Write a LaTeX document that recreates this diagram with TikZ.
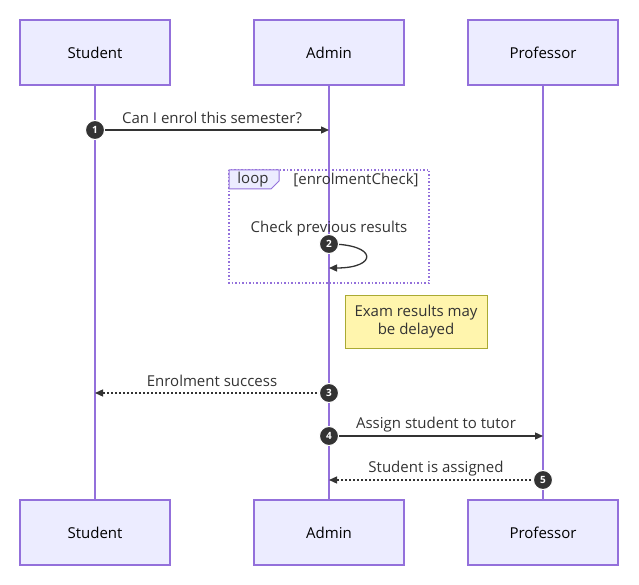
\documentclass[tikz,border=0pt]{standalone}
\usepackage{fontspec}
\setmainfont{Open Sans}
\usetikzlibrary{arrows.meta}
\definecolor{boxf}{HTML}{ECECFF}
\definecolor{boxd}{HTML}{9370DB}
\definecolor{ink}{HTML}{333333}
\definecolor{notef}{HTML}{FFF5AD}
\definecolor{noted}{HTML}{AAAA33}
\begin{document}
\begin{tikzpicture}[x=1pt,y=-1pt,font=\fontsize{15}{18.5}\selectfont,
 actor/.style={draw=boxd,line width=1.2pt,fill=boxf,minimum width=150pt,minimum height=65pt,text=black},
 life/.style={draw=boxd,line width=1.5pt},
 msg/.style={draw=ink,line width=1.3pt,-{Triangle[length=8pt,width=7pt]}},
 rep/.style={msg,dash pattern=on 2pt off 2pt},
 num/.style={circle,fill=ink,draw=white,line width=1pt,text=white,inner sep=0pt,minimum size=19pt,font=\fontsize{10}{11}\bfseries\selectfont},
 lbl/.style={text=ink}]
\useasboundingbox (0,0) rectangle (639,585);
\node[actor] (s1) at (95,52.5) {Student};
\node[actor] (a1) at (329,52.5) {Admin};
\node[actor] (p1) at (543,52.5) {Professor};
\node[actor] (s2) at (95,532.5) {Student};
\node[actor] (a2) at (329,532.5) {Admin};
\node[actor] (p2) at (543,532.5) {Professor};
\draw[life] (s1.south) -- (s2.north);
\draw[life] (a1.south) -- (a2.north);
\draw[life] (p1.south) -- (p2.north);
% loop
\draw[boxd,line width=1.5pt,dotted] (229,170) rectangle (429,283);
\draw[boxd,fill=boxf,line width=1pt] (229,170) -- (279,170) -- (279,181) -- (271,189) -- (229,189) -- cycle;
\node[lbl] (lp) at (253,180) {loop};
\node[lbl] (lc) at (356,180) {[enrolmentCheck]};
% msg 1
\coordinate (m1s) at (95,130); \coordinate (m1e) at (329,130);
\draw[msg] (m1s) -- (m1e);
\node[lbl] (t1) at (212,118) {Can I enrol this semester?};
\node[num] (n1) at (m1s) {1};
% self msg
\coordinate (m2s) at (329,244); \coordinate (m2e) at (329,268);
\draw[msg] (m2s) .. controls (378,244) and (378,268) .. (m2e);
\node[lbl] (t2) at (329,229) {Check previous results};
\node[num] (n2) at (m2s) {2};
% note
\node[draw=noted,line width=1pt,fill=notef,minimum width=142pt,minimum height=53pt,align=center,text=ink] (note) at (416,321.5) {Exam results may\\be delayed};
% msg 3
\coordinate (m3s) at (329,393); \coordinate (m3e) at (95,393);
\draw[rep] (m3s) -- (m3e);
\node[lbl] (t3) at (212,381) {Enrolment success};
\node[num] (n3) at (m3s) {3};
% msg 4
\coordinate (m4s) at (329,436); \coordinate (m4e) at (543,436);
\draw[msg] (m4s) -- (m4e);
\node[lbl] (t4) at (436,425) {Assign student to tutor};
\node[num] (n4) at (m4s) {4};
% msg 5
\coordinate (m5s) at (543,480); \coordinate (m5e) at (329,480);
\draw[rep] (m5s) -- (m5e);
\node[lbl] (t5) at (436,469) {Student is assigned};
\node[num] (n5) at (m5s) {5};
\end{tikzpicture}
\end{document}
